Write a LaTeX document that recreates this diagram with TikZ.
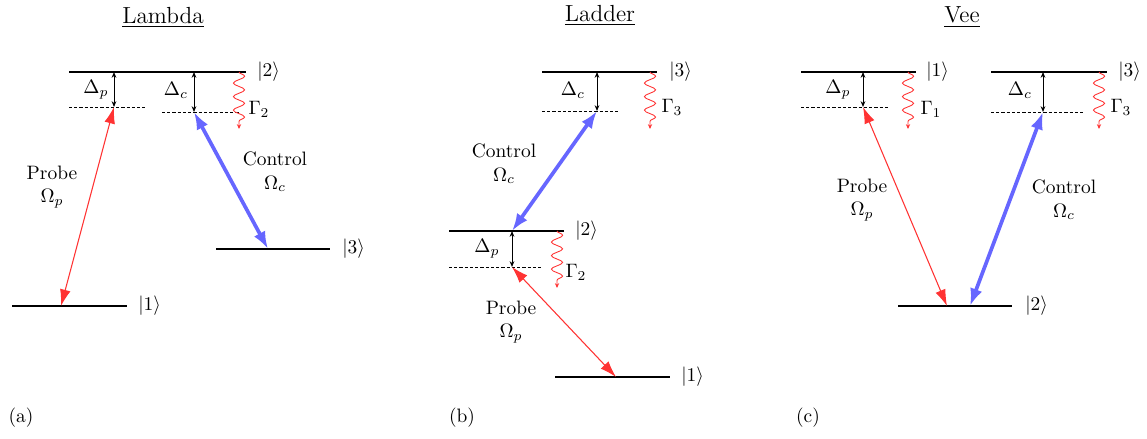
\documentclass[tikz,border=0pt]{standalone}
\usetikzlibrary{arrows.meta,decorations.pathmorphing}
\definecolor{probered}{RGB}{255,51,51}
\definecolor{ctrlblue}{RGB}{102,102,255}
\begin{document}
\begin{tikzpicture}[x=0.515pt,y=-0.515pt,
  level/.style={line width=0.55pt},
  virt/.style={line width=0.45pt, dash pattern=on 1.6pt off 1.1pt},
  det/.style={line width=0.45pt, {Stealth[length=3pt,width=2.4pt]}-{Stealth[length=3pt,width=2.4pt]}},
  probe/.style={probered, line width=0.55pt, {Latex[length=8.5pt,width=5.5pt]}-{Latex[length=8.5pt,width=5.5pt]}},
  control/.style={ctrlblue, line width=1.9pt, {Latex[length=9pt,width=6.5pt]}-{Latex[length=9pt,width=6.5pt]}},
  decay/.style={probered, line width=0.45pt, -{Stealth[length=2.5pt,width=2.2pt]},
    decorate, decoration={snake, amplitude=2.9pt, segment length=7pt, post length=2pt}},
  ket/.style={anchor=west, inner sep=1pt},
  title/.style={font=\large},
  txt/.style={align=center, inner sep=1pt}
]
\useasboundingbox (0,0) rectangle (1147,438);

% ---------------- Lambda ----------------
\node[title] (tA) at (163,17) {\underline{Lambda}};
\coordinate (a2l) at (69,72);  \coordinate (a2r) at (246,72);
\coordinate (a1l) at (12,306); \coordinate (a1r) at (127,306);
\coordinate (a3l) at (216,249); \coordinate (a3r) at (330,249);
\coordinate (apl) at (69,107); \coordinate (apr) at (145,107);
\coordinate (acl) at (162,112); \coordinate (acr) at (240,112);
\coordinate (apt) at (114,72); \coordinate (apb) at (114,107);
\coordinate (act) at (194,72); \coordinate (acb) at (194,112);
\coordinate (a1p) at (61,306); \coordinate (a3c) at (268,249);
\coordinate (ag0) at (239,72); \coordinate (ag1) at (239,129);
\draw[level] (a2l) -- (a2r);
\draw[level] (a1l) -- (a1r);
\draw[level] (a3l) -- (a3r);
\draw[virt] (apl) -- (apr);
\draw[virt] (acl) -- (acr);
\draw[det] (apt) -- (apb);
\draw[det] (act) -- (acb);
\draw[probe] (a1p) -- (apb);
\draw[control] (acb) -- (a3c);
\draw[decay] (ag0) -- (ag1);
\node[ket] (ak2) at (255,72) {$|2\rangle$};
\node[ket] (ak1) at (136,306) {$|1\rangle$};
\node[ket] (ak3) at (340,249) {$|3\rangle$};
\node (adp) at (96,90) {$\Delta_p$};
\node (adc) at (176,90) {$\Delta_c$};
\node (agm) at (259,109) {$\Gamma_2$};
\node[txt] (apL) at (52,187) {Probe\\$\Omega_p$};
\node[txt] (acL) at (275,172) {Control\\$\Omega_c$};
\node (la) at (21,418) {(a)};

% ---------------- Ladder ----------------
\node[title] (tB) at (600,15) {\underline{Ladder}};
\coordinate (b3l) at (542,72);  \coordinate (b3r) at (657,72);
\coordinate (b2l) at (449,231); \coordinate (b2r) at (564,231);
\coordinate (b1l) at (555,377); \coordinate (b1r) at (670,377);
\coordinate (bcl) at (542,111); \coordinate (bcr) at (618,111);
\coordinate (bpl) at (449,267); \coordinate (bpr) at (541,267);
\coordinate (bct) at (597,72);  \coordinate (bcb) at (597,111);
\coordinate (bpt) at (512,231); \coordinate (bpb) at (512,267);
\coordinate (b1p) at (616,377);
\coordinate (bg30) at (650,72); \coordinate (bg31) at (650,129);
\coordinate (bg20) at (557,231); \coordinate (bg21) at (557,288);
\draw[level] (b3l) -- (b3r);
\draw[level] (b2l) -- (b2r);
\draw[level] (b1l) -- (b1r);
\draw[virt] (bcl) -- (bcr);
\draw[virt] (bpl) -- (bpr);
\draw[det] (bct) -- (bcb);
\draw[det] (bpt) -- (bpb);
\draw[control] (bcb) -- (bpt);
\draw[probe] (bpb) -- (b1p);
\draw[decay] (bg30) -- (bg31);
\draw[decay] (bg20) -- (bg21);
\node[ket] (bk3) at (667,72) {$|3\rangle$};
\node[ket] (bk2) at (573,231) {$|2\rangle$};
\node[ket] (bk1) at (679,377) {$|1\rangle$};
\node (bdc) at (573,90) {$\Delta_c$};
\node (bdp) at (487,249) {$\Delta_p$};
\node (bg3) at (672,107) {$\Gamma_3$};
\node (bg2) at (576,272) {$\Gamma_2$};
\node[txt] (bcL) at (504,164) {Control\\$\Omega_c$};
\node[txt] (bpL) at (511,322) {Probe\\$\Omega_p$};
\node (lb) at (462,418) {(b)};

% ---------------- Vee ----------------
\node[title] (tC) at (962,17) {\underline{Vee}};
\coordinate (c1l) at (801,72);  \coordinate (c1r) at (916,72);
\coordinate (c3l) at (991,72);  \coordinate (c3r) at (1107,72);
\coordinate (c2l) at (898,306); \coordinate (c2r) at (1012,306);
\coordinate (cpl) at (801,107); \coordinate (cpr) at (888,107);
\coordinate (ccl) at (991,112); \coordinate (ccr) at (1083,112);
\coordinate (cpt) at (863,72);  \coordinate (cpb) at (863,107);
\coordinate (cct) at (1043,72); \coordinate (ccb) at (1043,112);
\coordinate (c2p) at (947,306); \coordinate (c2c) at (970,306);
\coordinate (cg10) at (908,72); \coordinate (cg11) at (908,129);
\coordinate (cg30) at (1099,72); \coordinate (cg31) at (1099,129);
\draw[level] (c1l) -- (c1r);
\draw[level] (c3l) -- (c3r);
\draw[level] (c2l) -- (c2r);
\draw[virt] (cpl) -- (cpr);
\draw[virt] (ccl) -- (ccr);
\draw[det] (cpt) -- (cpb);
\draw[det] (cct) -- (ccb);
\draw[probe] (cpb) -- (c2p);
\draw[control] (ccb) -- (c2c);
\draw[decay] (cg10) -- (cg11);
\draw[decay] (cg30) -- (cg31);
\node[ket] (ck1) at (924,72) {$|1\rangle$};
\node[ket] (ck3) at (1116,72) {$|3\rangle$};
\node[ket] (ck2) at (1023,306) {$|2\rangle$};
\node (cdp) at (838,90) {$\Delta_p$};
\node (cdc) at (1020,90) {$\Delta_c$};
\node (cg1) at (931,109) {$\Gamma_1$};
\node (cg3) at (1121,107) {$\Gamma_3$};
\node[txt] (cpL) at (862,200) {Probe\\$\Omega_p$};
\node[txt] (ccL) at (1064,200) {Control\\$\Omega_c$};
\node (lc) at (808,418) {(c)};
\end{tikzpicture}
\end{document}
